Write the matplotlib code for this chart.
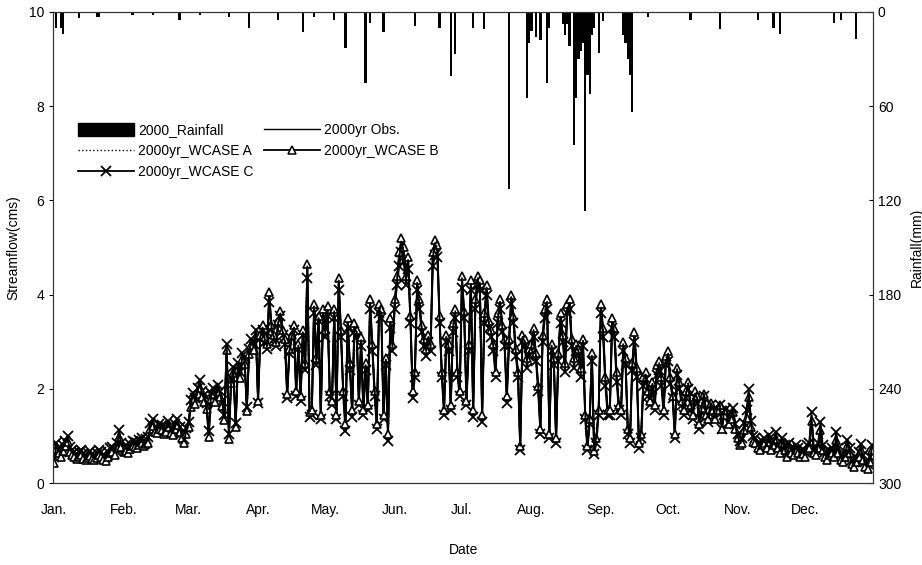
import numpy as np
import matplotlib
matplotlib.use('Agg')
import matplotlib.pyplot as plt
from matplotlib.patches import Rectangle
from matplotlib.lines import Line2D

plt.rcParams['font.family'] = ['Liberation Sans', 'DejaVu Sans']

# daily streamflow for 2000 (cms), Jan 1 .. Dec 31 (366 days)
flow_obs = [
    # Jan
    0.50, 0.78, 0.70, 0.62, 0.75, 0.85, 0.95, 0.72, 0.66, 0.62, 0.58, 0.62, 0.66, 0.58, 0.55, 0.60,
    0.64, 0.58, 0.54, 0.60, 0.66, 0.62, 0.56, 0.52, 0.62, 0.70, 0.72, 0.66, 0.80, 1.05, 0.82,
    # Feb
    0.72, 0.75, 0.70, 0.78, 0.85, 0.82, 0.80, 0.86, 0.90, 0.84, 0.88, 0.92, 1.22, 1.28, 1.15,
    1.12, 1.20, 1.18, 1.10, 1.15, 1.25, 1.12, 1.08, 1.20, 1.30, 1.15, 1.02, 0.90, 1.10,
    # Mar
    1.25, 1.70, 1.85, 1.75, 1.95, 2.10, 1.90, 1.80, 1.65, 1.05, 1.85, 1.95, 1.80, 2.00, 1.90, 1.70,
    1.40, 2.90, 1.00, 2.20, 2.40, 1.25, 2.50, 2.30, 2.70, 2.60, 1.60, 2.80, 3.00, 2.90, 3.20,
    # Apr
    1.80, 3.10, 3.30, 3.05, 2.90, 3.95, 3.30, 3.10, 2.95, 3.40, 3.60, 3.20, 3.00, 1.95, 2.80,
    3.10, 3.30, 2.00, 2.90, 1.90, 3.20, 2.50, 4.55, 1.55, 1.60, 3.70, 2.60, 3.50, 1.50, 3.60,
    # May
    3.20, 3.65, 2.00, 1.80, 3.60, 1.50, 4.25, 3.20, 2.00, 1.30, 3.40, 2.50, 1.60, 3.30, 3.20, 1.80,
    3.00, 1.60, 2.50, 1.70, 3.80, 2.90, 2.00, 1.30, 3.70, 3.60, 1.50, 2.60, 1.10, 3.40, 2.90,
    # Jun
    3.80, 4.30, 4.80, 5.10, 4.90, 4.30, 4.70, 3.50, 2.00, 2.40, 4.20, 3.80, 3.30, 3.00, 2.80,
    3.10, 2.90, 4.80, 5.05, 4.95, 3.50, 2.40, 1.60, 3.10, 2.90, 1.70, 3.30, 3.60, 2.40, 2.00,
    # Jul
    4.30, 3.60, 1.80, 2.90, 4.20, 1.60, 3.80, 4.30, 4.20, 1.50, 3.50, 4.10, 3.40, 3.20, 2.90, 2.40,
    3.50, 3.80, 3.30, 3.00, 1.90, 3.00, 3.90, 3.50, 2.80, 2.40, 0.80, 3.10, 3.00, 2.60, 2.80,
    # Aug
    2.90, 3.20, 2.70, 2.10, 1.20, 3.10, 3.60, 3.80, 1.10, 2.90, 2.60, 1.00, 2.70, 3.50, 3.10, 2.50,
    3.70, 3.80, 3.00, 2.60, 2.90, 2.80, 2.40, 3.00, 1.50, 0.80, 1.40, 2.70, 0.70, 1.00, 1.60,
    # Sep
    3.70, 3.20, 2.20, 1.60, 1.60, 3.40, 3.20, 2.30, 1.70, 1.60, 2.90, 2.60, 1.20, 1.00, 2.50,
    3.10, 2.40, 0.90, 1.10, 2.20, 2.30, 2.00, 1.80, 2.10, 1.70, 2.40, 2.50, 2.20, 1.60, 2.60,
    # Oct
    2.70, 2.20, 1.90, 1.10, 2.40, 2.10, 1.80, 1.60, 1.90, 2.10, 1.70, 1.50, 1.90, 1.80, 1.30, 1.60,
    1.90, 1.50, 1.40, 1.70, 1.60, 1.40, 1.60, 1.70, 1.20, 1.50, 1.60, 1.30, 1.40, 1.55, 1.20,
    # Nov
    1.00, 0.85, 0.90, 1.20, 1.45, 1.90, 1.25, 0.95, 0.90, 0.80, 0.75, 0.85, 0.90, 0.80, 0.95,
    0.75, 0.85, 1.00, 0.80, 0.70, 0.90, 0.75, 0.60, 0.80, 0.70, 0.65, 0.75, 0.70, 0.62, 0.68,
    # Dec
    0.60, 0.75, 0.80, 1.40, 0.70, 0.65, 0.80, 1.20, 0.75, 0.60, 0.55, 0.65, 0.70, 0.60, 1.00, 0.70,
    0.55, 0.50, 0.60, 0.85, 0.70, 0.45, 0.40, 0.50, 0.60, 0.75, 0.55, 0.40, 0.35, 0.50, 0.75,
]

flow_a = [
    0.48, 0.76, 0.68, 0.60, 0.72, 0.82, 0.92, 0.70, 0.64, 0.60, 0.56, 0.60, 0.64, 0.56, 0.53, 0.58,
    0.62, 0.56, 0.52, 0.58, 0.64, 0.60, 0.54, 0.50, 0.60, 0.68, 0.70, 0.64, 0.78, 1.02, 0.80,
    0.70, 0.73, 0.68, 0.76, 0.83, 0.80, 0.78, 0.84, 0.88, 0.82, 0.86, 0.90, 1.20, 1.26, 1.13,
    1.10, 1.18, 1.16, 1.08, 1.13, 1.23, 1.10, 1.06, 1.18, 1.28, 1.13, 1.00, 0.88, 1.08,
    1.22, 1.67, 1.83, 1.73, 1.93, 2.08, 1.88, 1.78, 1.63, 1.02, 1.83, 1.93, 1.78, 1.98, 1.88, 1.68,
    1.38, 2.88, 0.98, 2.18, 2.38, 1.22, 2.48, 2.28, 2.68, 2.58, 1.58, 2.78, 2.98, 2.88, 3.18,
    1.78, 3.12, 3.32, 3.08, 2.92, 4.00, 3.32, 3.12, 2.98, 3.42, 3.62, 3.22, 3.02, 1.92, 2.82,
    3.12, 3.32, 1.98, 2.92, 1.88, 3.22, 2.52, 4.60, 1.52, 1.58, 3.75, 2.62, 3.52, 1.48, 3.65,
    3.22, 3.70, 1.98, 1.78, 3.65, 1.48, 4.30, 3.22, 1.98, 1.28, 3.45, 2.52, 1.58, 3.35, 3.22, 1.78,
    3.05, 1.58, 2.52, 1.68, 3.85, 2.92, 1.98, 1.28, 3.75, 3.65, 1.48, 2.62, 1.08, 3.45, 2.92,
    3.85, 4.35, 4.85, 5.15, 4.95, 4.35, 4.75, 3.52, 1.98, 2.38, 4.25, 3.85, 3.32, 3.02, 2.82,
    3.12, 2.92, 4.85, 5.10, 5.00, 3.52, 2.38, 1.58, 3.12, 2.92, 1.68, 3.35, 3.65, 2.38, 1.98,
    4.35, 3.62, 1.78, 2.92, 4.25, 1.58, 3.85, 4.35, 4.25, 1.48, 3.55, 4.15, 3.42, 3.22, 2.92, 2.38,
    3.55, 3.85, 3.32, 3.02, 1.88, 3.02, 3.95, 3.52, 2.82, 2.38, 0.79, 3.12, 3.02, 2.62, 2.82,
    2.92, 3.25, 2.72, 2.08, 1.18, 3.12, 3.65, 3.85, 1.08, 2.92, 2.62, 0.98, 2.72, 3.55, 3.12, 2.52,
    3.75, 3.85, 3.02, 2.62, 2.92, 2.82, 2.42, 3.02, 1.48, 0.79, 1.38, 2.72, 0.69, 0.98, 1.58,
    3.75, 3.25, 2.22, 1.58, 1.58, 3.45, 3.25, 2.32, 1.68, 1.58, 2.95, 2.62, 1.18, 0.98, 2.52,
    3.15, 2.42, 0.88, 1.08, 2.22, 2.32, 1.98, 1.78, 2.12, 1.68, 2.45, 2.55, 2.22, 1.58, 2.65,
    2.75, 2.22, 1.88, 1.08, 2.42, 2.12, 1.78, 1.58, 1.92, 2.12, 1.68, 1.48, 1.92, 1.82, 1.28, 1.60,
    1.90, 1.48, 1.38, 1.70, 1.58, 1.38, 1.58, 1.68, 1.18, 1.48, 1.58, 1.28, 1.38, 1.52, 1.18,
    0.98, 0.83, 0.88, 1.17, 1.42, 1.87, 1.22, 0.92, 0.88, 0.78, 0.73, 0.83, 0.88, 0.78, 0.92,
    0.73, 0.83, 0.98, 0.78, 0.68, 0.88, 0.73, 0.58, 0.78, 0.68, 0.63, 0.73, 0.68, 0.60, 0.66,
    0.58, 0.73, 0.78, 1.37, 0.68, 0.63, 0.78, 1.17, 0.73, 0.58, 0.53, 0.63, 0.68, 0.58, 0.97, 0.68,
    0.53, 0.48, 0.58, 0.82, 0.68, 0.43, 0.38, 0.48, 0.58, 0.73, 0.53, 0.38, 0.33, 0.48, 0.73,
]

flow_b = [
    0.42, 0.72, 0.64, 0.56, 0.68, 0.78, 0.88, 0.66, 0.60, 0.56, 0.52, 0.56, 0.60, 0.52, 0.49, 0.54,
    0.58, 0.52, 0.48, 0.54, 0.60, 0.56, 0.50, 0.46, 0.56, 0.64, 0.66, 0.60, 0.74, 0.98, 0.76,
    0.66, 0.69, 0.64, 0.72, 0.79, 0.76, 0.74, 0.80, 0.84, 0.78, 0.82, 0.86, 1.15, 1.21, 1.09,
    1.06, 1.14, 1.12, 1.04, 1.09, 1.19, 1.06, 1.02, 1.14, 1.24, 1.09, 0.96, 0.84, 1.04,
    1.18, 1.62, 1.78, 1.68, 1.88, 2.02, 1.83, 1.73, 1.58, 0.98, 1.78, 1.88, 1.73, 1.93, 1.83, 1.63,
    1.33, 2.82, 0.94, 2.13, 2.33, 1.18, 2.43, 2.23, 2.63, 2.53, 1.53, 2.73, 2.93, 2.83, 3.13,
    1.75, 3.15, 3.35, 3.10, 2.95, 4.05, 3.35, 3.15, 3.00, 3.45, 3.65, 3.25, 3.05, 1.90, 2.85,
    3.15, 3.35, 1.95, 2.95, 1.85, 3.25, 2.55, 4.65, 1.50, 1.55, 3.80, 2.65, 3.55, 1.45, 3.70,
    3.25, 3.75, 1.95, 1.75, 3.70, 1.45, 4.35, 3.25, 1.95, 1.25, 3.50, 2.55, 1.55, 3.40, 3.25, 1.75,
    3.10, 1.55, 2.55, 1.65, 3.90, 2.95, 1.95, 1.25, 3.80, 3.70, 1.45, 2.65, 1.05, 3.50, 2.95,
    3.90, 4.40, 4.90, 5.20, 5.00, 4.40, 4.80, 3.55, 1.95, 2.35, 4.30, 3.90, 3.35, 3.05, 2.85,
    3.15, 2.95, 4.90, 5.15, 5.05, 3.55, 2.35, 1.55, 3.15, 2.95, 1.65, 3.40, 3.70, 2.35, 1.95,
    4.40, 3.65, 1.75, 2.95, 4.30, 1.55, 3.90, 4.40, 4.30, 1.45, 3.60, 4.20, 3.45, 3.25, 2.95, 2.35,
    3.60, 3.90, 3.35, 3.05, 1.85, 3.05, 4.00, 3.55, 2.85, 2.35, 0.78, 3.15, 3.05, 2.65, 2.85,
    2.95, 3.30, 2.75, 2.05, 1.15, 3.15, 3.70, 3.90, 1.05, 2.95, 2.65, 0.95, 2.75, 3.60, 3.15, 2.55,
    3.80, 3.90, 3.05, 2.65, 2.95, 2.85, 2.45, 3.05, 1.45, 0.78, 1.35, 2.75, 0.68, 0.95, 1.55,
    3.80, 3.30, 2.25, 1.55, 1.55, 3.50, 3.30, 2.35, 1.65, 1.55, 3.00, 2.65, 1.15, 0.95, 2.55,
    3.20, 2.45, 0.85, 1.05, 2.25, 2.35, 1.95, 1.75, 2.15, 1.65, 2.50, 2.60, 2.25, 1.55, 2.70,
    2.80, 2.25, 1.85, 1.05, 2.45, 2.15, 1.75, 1.55, 1.95, 2.15, 1.65, 1.45, 1.95, 1.85, 1.25, 1.60,
    1.90, 1.45, 1.35, 1.70, 1.55, 1.35, 1.55, 1.65, 1.15, 1.45, 1.55, 1.25, 1.35, 1.50, 1.15,
    0.95, 0.80, 0.84, 1.12, 1.38, 1.82, 1.18, 0.88, 0.84, 0.74, 0.70, 0.80, 0.84, 0.74, 0.88,
    0.70, 0.80, 0.94, 0.74, 0.64, 0.84, 0.70, 0.55, 0.74, 0.64, 0.60, 0.70, 0.64, 0.56, 0.62,
    0.55, 0.70, 0.74, 1.32, 0.64, 0.60, 0.74, 1.12, 0.70, 0.55, 0.50, 0.60, 0.64, 0.55, 0.92, 0.64,
    0.50, 0.45, 0.55, 0.78, 0.64, 0.40, 0.35, 0.45, 0.55, 0.70, 0.50, 0.34, 0.30, 0.45, 0.70,
]

flow_c = [
    0.55, 0.85, 0.74, 0.66, 0.80, 0.90, 1.00, 0.76, 0.70, 0.66, 0.62, 0.66, 0.70, 0.62, 0.58, 0.64,
    0.68, 0.62, 0.57, 0.64, 0.70, 0.66, 0.60, 0.55, 0.66, 0.75, 0.77, 0.70, 0.85, 1.12, 0.86,
    0.76, 0.80, 0.74, 0.83, 0.90, 0.87, 0.84, 0.91, 0.95, 0.88, 0.93, 0.97, 1.28, 1.35, 1.20,
    1.17, 1.26, 1.23, 1.15, 1.20, 1.32, 1.17, 1.12, 1.26, 1.37, 1.20, 1.06, 0.94, 1.16,
    1.30, 1.76, 1.92, 1.81, 2.02, 2.18, 1.96, 1.86, 1.70, 1.10, 1.92, 2.02, 1.86, 2.08, 1.96, 1.75,
    1.44, 2.95, 1.04, 2.26, 2.46, 1.28, 2.55, 2.35, 2.76, 2.65, 1.62, 2.85, 3.05, 2.95, 3.25,
    1.70, 3.05, 3.25, 3.00, 2.85, 3.85, 3.25, 3.05, 2.90, 3.35, 3.55, 3.15, 2.95, 1.80, 2.75,
    3.05, 3.25, 1.85, 2.85, 1.75, 3.15, 2.40, 4.35, 1.40, 1.45, 3.60, 2.50, 3.45, 1.35, 3.50,
    3.10, 3.55, 1.85, 1.65, 3.50, 1.35, 4.10, 3.10, 1.85, 1.10, 3.30, 2.40, 1.40, 3.20, 3.10, 1.65,
    2.90, 1.45, 2.40, 1.55, 3.70, 2.80, 1.85, 1.15, 3.60, 3.50, 1.35, 2.50, 0.90, 3.30, 2.80,
    3.70, 4.20, 4.60, 4.90, 4.70, 4.20, 4.55, 3.40, 1.80, 2.25, 4.10, 3.70, 3.20, 2.90, 2.70,
    3.00, 2.80, 4.60, 4.85, 4.80, 3.40, 2.25, 1.45, 3.00, 2.80, 1.55, 3.20, 3.50, 2.25, 1.85,
    4.15, 3.50, 1.65, 2.80, 4.10, 1.40, 3.70, 4.20, 4.10, 1.30, 3.40, 4.00, 3.30, 3.10, 2.80, 2.25,
    3.40, 3.70, 3.20, 2.90, 1.70, 2.90, 3.80, 3.40, 2.70, 2.25, 0.70, 3.00, 2.90, 2.45, 2.70,
    2.80, 3.10, 2.60, 1.95, 1.05, 3.00, 3.50, 3.70, 0.95, 2.80, 2.50, 0.85, 2.60, 3.40, 3.00, 2.35,
    3.60, 3.70, 2.90, 2.45, 2.80, 2.70, 2.25, 2.90, 1.35, 0.70, 1.25, 2.60, 0.62, 0.85, 1.45,
    3.60, 3.10, 2.05, 1.45, 1.45, 3.30, 3.10, 2.15, 1.55, 1.45, 2.80, 2.50, 1.05, 0.85, 2.40,
    3.00, 2.25, 0.75, 0.95, 2.05, 2.20, 1.85, 1.65, 2.00, 1.55, 2.30, 2.40, 2.05, 1.45, 2.50,
    2.60, 2.10, 1.80, 0.95, 2.30, 2.00, 1.65, 1.45, 1.80, 2.00, 1.55, 1.35, 1.80, 1.70, 1.15, 1.50,
    1.85, 1.40, 1.30, 1.65, 1.55, 1.35, 1.55, 1.65, 1.15, 1.45, 1.58, 1.28, 1.40, 1.60, 1.25,
    1.05, 0.90, 0.95, 1.28, 1.55, 2.00, 1.32, 1.00, 0.95, 0.85, 0.80, 0.90, 0.96, 0.85, 1.02,
    0.80, 0.90, 1.08, 0.85, 0.75, 0.96, 0.80, 0.65, 0.86, 0.75, 0.70, 0.80, 0.75, 0.67, 0.73,
    0.65, 0.80, 0.86, 1.50, 0.75, 0.70, 0.86, 1.30, 0.80, 0.65, 0.60, 0.70, 0.75, 0.65, 1.08, 0.75,
    0.60, 0.55, 0.65, 0.92, 0.75, 0.50, 0.45, 0.55, 0.65, 0.82, 0.60, 0.45, 0.40, 0.55, 0.80,
]

# rainfall events: day of year and depth (mm)
rain_day = [2, 4, 5, 12, 20, 21, 36, 45, 57, 66, 79, 88, 101, 112, 117, 126, 131, 140, 142, 148,
            162, 173, 178, 180, 188, 193, 204, 212, 213, 214, 216, 218, 221, 222, 228, 229, 230,
            231, 233, 234, 235, 236, 237, 238, 239, 240, 241, 242, 244, 246, 255, 256, 257, 258,
            259, 266, 285, 298, 315, 322, 325, 349, 352, 359]
rain_mm = [10, 10, 14, 4, 3, 3, 2, 2, 5, 2, 3, 10, 5, 13, 3, 5, 23, 45, 7, 13,
           9, 10, 41, 27, 10, 11, 113, 55, 20, 12, 16, 18, 45, 10, 8, 15, 8,
           22, 85, 55, 30, 25, 20, 127, 40, 52, 15, 10, 26, 6, 15, 20, 30, 40,
           64, 3, 5, 11, 5, 10, 14, 7, 5, 17]

month_start = [1, 32, 61, 92, 122, 153, 183, 214, 245, 275, 306, 336]
month_labels = ['Jan.', 'Feb.', 'Mar.', 'Apr.', 'May.', 'Jun.', 'Jul.', 'Aug.', 'Sep.',
                'Oct.', 'Nov.', 'Dec.']

fig = plt.figure(figsize=(9.22, 5.65), dpi=100)
ax = fig.add_axes([0.0575, 0.145, 0.8895, 0.834])

def days_for(series):
    return np.arange(1, len(series) + 1)

# simulated cases, then observed on top
ax.plot(days_for(flow_c), flow_c, color='black', lw=1.3, marker='x', ms=6.5, mew=1.3, zorder=2)
ax.plot(days_for(flow_b), flow_b, color='black', lw=1.3, marker='^', ms=5.5, mew=1.2,
        mfc='white', zorder=3)
ax.plot(days_for(flow_a), flow_a, color='black', lw=1.2, ls=':', zorder=4)
ax.plot(days_for(flow_obs), flow_obs, color='black', lw=1.3, zorder=4)

ax.set_xlim(0.5, 366.5)
ax.set_ylim(0, 10)
ax.set_yticks([0, 2, 4, 6, 8, 10])
ax.set_xticks(month_start)
ax.set_xticklabels(month_labels)
ax.tick_params(axis='x', length=0, pad=14, labelsize=10)
ax.tick_params(axis='y', direction='out', length=3, labelsize=10)
ax.set_xlabel('Date', fontsize=10, labelpad=19)
ax.set_ylabel('Streamflow(cms)', fontsize=10, labelpad=6)

# rainfall hanging from the top on an inverted secondary axis
ax2 = ax.twinx()
ax2.bar(rain_day, rain_mm, width=1.0, color='black', linewidth=0)
ax2.set_ylim(300, 0)
ax2.set_yticks([0, 60, 120, 180, 240, 300])
ax2.tick_params(axis='y', direction='in', length=3, labelsize=10)
ax2.set_ylabel('Rainfall(mm)', fontsize=10, rotation=90, labelpad=6)

for a in (ax, ax2):
    for s in a.spines.values():
        s.set_linewidth(0.8)
        s.set_color('#333333')

handles = [
    Rectangle((0, 0), 1, 1, facecolor='black', edgecolor='black'),
    Line2D([], [], color='black', lw=1.0, ls=':'),
    Line2D([], [], color='black', lw=1.3, marker='x', ms=6.5, mew=1.3),
    Line2D([], [], color='black', lw=1.0),
    Line2D([], [], color='black', lw=1.3, marker='^', ms=5.5, mew=1.1, mfc='white'),
]
labels = ['2000_Rainfall', '2000yr_WCASE A', '2000yr_WCASE C', '2000yr Obs.', '2000yr_WCASE B']
ax.legend(handles, labels, loc='upper left', bbox_to_anchor=(0.024, 0.775), ncol=2,
          frameon=False, fontsize=10, handlelength=4.0, handleheight=1.0, handletextpad=0.3,
          columnspacing=0.8, labelspacing=0.5, borderaxespad=0)

fig.savefig('out.png', dpi=100)
